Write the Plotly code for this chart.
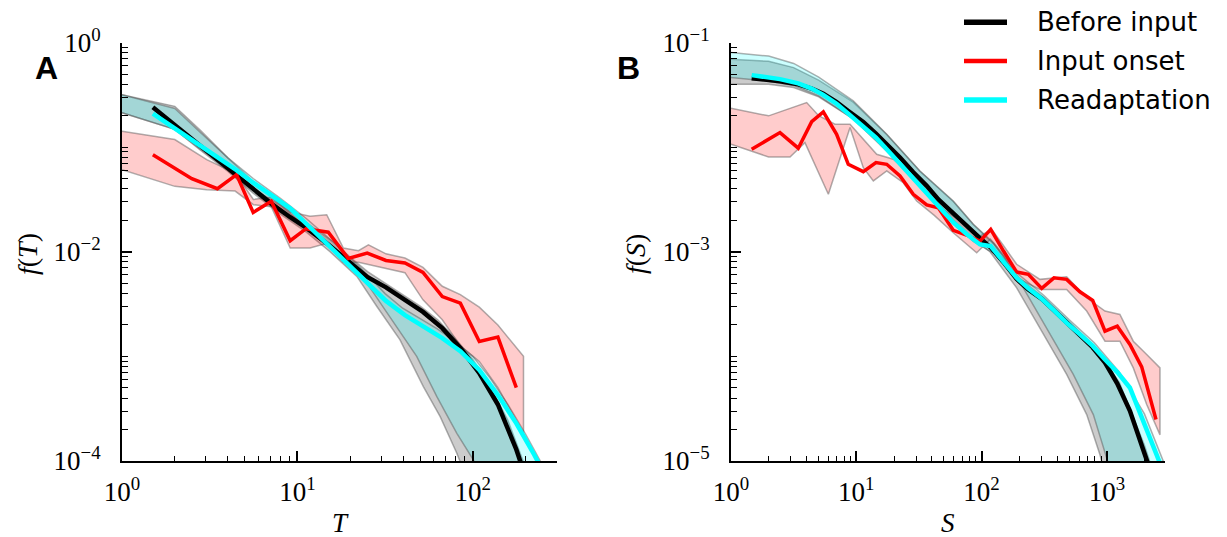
import numpy as np
import plotly.graph_objects as go

W, H = 1227, 537

# ---------------------------------------------------------------
# Panel A: distribution of avalanche durations T (log10 units)
# ---------------------------------------------------------------
T_log10 = [0.176, 0.398, 0.544, 0.653, 0.748, 0.851, 0.959, 1.049, 1.176, 1.290,
           1.398, 1.505, 1.613, 1.716, 1.826, 1.929, 2.037, 2.143, 2.248, 2.350, 2.450]
fT_before = [-0.62, -0.92, -1.12, -1.27, -1.40, -1.54, -1.67, -1.77, -1.93, -2.09,
             -2.24, -2.34, -2.46, -2.575, -2.73, -2.92, -3.16, -3.46, -3.89, -4.40]
fT_onset = [-1.072, -1.301, -1.397, -1.263, -1.624, -1.518, -1.895, -1.78, -1.813, -2.064,
            -2.013, -2.083, -2.108, -2.198, -2.428, -2.491, -2.858, -2.816, -3.299]
fT_readapt = [-0.68, -0.93, -1.09, -1.22, -1.34, -1.46, -1.585, -1.73, -1.935, -2.11,
              -2.29, -2.47, -2.605, -2.71, -2.825, -2.95, -3.13, -3.37, -3.64, -3.94, -4.25]

# spread around each curve (upper / lower edges, log10 units)
bandA_before_hi_x = [0.0, 0.301, 0.447, 0.602, 0.748, 0.903, 1.049, 1.2, 1.3, 1.4,
                     1.5, 1.6, 1.7, 1.8, 1.9, 2.0, 2.1, 2.2, 2.3, 2.4]
bandA_before_hi = [-0.50, -0.61, -0.84, -1.10, -1.33, -1.54, -1.72, -1.90, -2.05, -2.19,
                   -2.30, -2.41, -2.52, -2.65, -2.83, -3.03, -3.29, -3.61, -4.06, -4.6]
bandA_before_lo_x = [0.0, 0.301, 0.447, 0.602, 0.748, 0.903, 1.049, 1.186, 1.339, 1.453,
                     1.585, 1.718, 1.814, 1.909, 1.95]
bandA_before_lo = [-0.67, -0.83, -1.03, -1.23, -1.44, -1.64, -1.81, -2.0, -2.236, -2.523,
                   -2.842, -3.289, -3.576, -3.926, -4.1]
bandA_readapt_hi_x = [0.0, 0.301, 0.447, 0.602, 0.748, 0.903, 1.049, 1.2, 1.3, 1.4,
                      1.5, 1.6, 1.7, 1.8, 1.9, 2.0, 2.1, 2.2, 2.3, 2.4, 2.45]
bandA_readapt_hi = [-0.50, -0.63, -0.86, -1.10, -1.30, -1.49, -1.68, -1.90, -2.06, -2.22,
                    -2.40, -2.54, -2.64, -2.74, -2.86, -3.00, -3.21, -3.46, -3.74, -4.05, -4.2]
bandA_readapt_lo_x = [0.0, 0.301, 0.447, 0.602, 0.748, 0.903, 1.049, 1.2, 1.396, 1.528,
                      1.68, 1.795, 1.909, 2.003, 2.05]
bandA_readapt_lo = [-0.67, -0.83, -1.02, -1.20, -1.40, -1.56, -1.76, -1.99, -2.30, -2.619,
                    -3.0, -3.385, -3.735, -3.99, -4.15]
bandA_onset_x = [0.0, 0.301, 0.483, 0.645, 0.749, 0.851, 0.959, 1.072, 1.167, 1.262,
                 1.348, 1.405, 1.505, 1.613, 1.716, 1.826, 1.929, 2.037, 2.143, 2.289]
bandA_onset_hi = [-0.849, -0.928, -1.12, -1.247, -1.50, -1.48, -1.62, -1.66, -1.646, -1.965,
                  -1.99, -1.933, -2.02, -2.06, -2.15, -2.33, -2.41, -2.53, -2.70, -3.0]
bandA_onset_lo = [-1.215, -1.375, -1.407, -1.42, -1.55, -1.57, -1.965, -1.965, -1.92, -2.10,
                  -2.10, -2.12, -2.16, -2.20, -2.46, -2.65, -2.90, -3.05, -3.30, -3.735]

# ---------------------------------------------------------------
# Panel B: distribution of avalanche sizes S (log10 units)
# ---------------------------------------------------------------
S_log10 = [0.165, 0.391, 0.537, 0.644, 0.737, 0.843, 0.936, 1.056, 1.157, 1.243,
           1.349, 1.455, 1.562, 1.655, 1.774, 1.880, 1.987, 2.073, 2.175, 2.280,
           2.373, 2.480, 2.578, 2.679, 2.785, 2.887, 2.985, 3.083, 3.184, 3.278,
           3.392, 3.450]
fS_before = [-1.341, -1.37, -1.40, -1.44, -1.49, -1.57, -1.655, -1.76, -1.87, -1.972,
             -2.10, -2.24, -2.37, -2.50, -2.627, -2.75, -2.87, -2.96, -3.10, -3.26,
             -3.36, -3.45, -3.56, -3.68, -3.80, -3.915, -4.06, -4.26, -4.52, -4.83, -5.25]
fS_onset = [-2.02, -1.861, -2.01, -1.756, -1.663, -1.877, -2.164, -2.234, -2.148, -2.164,
            -2.276, -2.451, -2.553, -2.579, -2.795, -2.84, -2.898, -2.786, -2.993, -3.194,
            -3.216, -3.35, -3.249, -3.264, -3.383, -3.465, -3.759, -3.711, -3.886, -4.10, -4.604]
fS_readapt = [-1.312, -1.35, -1.39, -1.44, -1.50, -1.585, -1.68, -1.80, -1.91, -2.02,
              -2.16, -2.31, -2.45, -2.57, -2.72, -2.83, -2.93, -2.946, -3.10, -3.249,
              -3.35, -3.45, -3.56, -3.68, -3.79, -3.90, -4.03, -4.15, -4.30, -4.58, -4.92, -5.1]

bandB_hi_x = [0.0, 0.3, 0.5, 0.7, 0.976, 1.243, 1.508, 1.774, 1.934, 2.1,
              2.3, 2.5, 2.7, 2.9, 3.1, 3.3, 3.45]
bandB_before_hi = [-1.159, -1.18, -1.24, -1.36, -1.57, -1.88, -2.23, -2.52, -2.74, -2.93,
                   -3.25, -3.44, -3.67, -3.90, -4.25, -4.85, -5.4]
bandB_readapt_hi = [-1.096, -1.13, -1.20, -1.33, -1.558, -1.877, -2.228, -2.515, -2.738, -2.92,
                    -3.22, -3.42, -3.65, -3.87, -4.15, -4.55, -5.0]
bandB_before_lo_x = [0.0, 0.3, 0.5, 0.7, 0.976, 1.243, 1.508, 1.774, 1.934, 2.067,
                     2.28, 2.466, 2.679, 2.839, 2.945, 3.0]
bandB_before_lo = [-1.398, -1.40, -1.43, -1.52, -1.73, -2.03, -2.35, -2.70, -2.88, -3.0,
                   -3.345, -3.727, -4.173, -4.556, -4.94, -5.2]
bandB_readapt_lo_x = [0.0, 0.3, 0.5, 0.7, 0.976, 1.243, 1.508, 1.774, 1.934, 2.147,
                      2.333, 2.52, 2.732, 2.892, 2.998, 3.05]
bandB_readapt_lo = [-1.335, -1.37, -1.41, -1.51, -1.73, -2.04, -2.36, -2.72, -2.90, -3.05,
                    -3.345, -3.727, -4.173, -4.556, -4.97, -5.2]
bandB_onset_hi_x = [0.0, 0.30, 0.604, 0.70, 0.83, 0.95, 1.163, 1.296, 1.40, 1.562,
                    1.70, 1.85, 1.987, 2.08, 2.18, 2.28, 2.466, 2.679, 2.839, 2.985,
                    3.104, 3.211, 3.318, 3.424]
bandB_onset_hi = [-1.628, -1.701, -1.574, -1.70, -1.781, -1.781, -2.068, -2.116, -2.228, -2.42,
                  -2.60, -2.72, -2.85, -2.786, -2.95, -3.12, -3.264, -3.24, -3.44, -3.567,
                  -3.599, -3.855, -3.982, -4.11]
bandB_onset_lo_x = [0.0, 0.30, 0.471, 0.59, 0.777, 0.95, 1.056, 1.136, 1.243, 1.375,
                    1.482, 1.62, 1.774, 1.961, 2.07, 2.18, 2.28, 2.466, 2.679, 2.839,
                    2.985, 3.104, 3.211, 3.318, 3.424]
bandB_onset_lo = [-1.972, -2.094, -2.094, -1.957, -2.451, -1.813, -2.196, -2.323, -2.228, -2.34,
                  -2.515, -2.65, -2.818, -3.01, -2.88, -3.05, -3.25, -3.36, -3.36, -3.567,
                  -3.855, -3.855, -4.11, -4.46, -4.75]

series_names = ["Before input", "Input onset", "Readaptation"]
series_colors = ["#000000", "#ff0000", "#00ffff"]
series_widths = [4.5, 3.5, 4.5]

EDGE = "rgba(80,80,80,0.45)"
FILL_BEFORE = "rgba(0,0,0,0.2)"
FILL_ONSET = "rgba(255,0,0,0.2)"
FILL_READAPT = "rgba(0,255,255,0.2)"

fig = go.Figure()


def band(xh, yh, xl, yl, fill, xa, ya):
    xs = np.concatenate([np.asarray(xh, float), np.asarray(xl, float)[::-1]])
    ys = np.concatenate([np.asarray(yh, float), np.asarray(yl, float)[::-1]])
    return go.Scatter(x=10 ** xs, y=10 ** ys, mode="lines", fill="toself",
                      fillcolor=fill, line=dict(color=EDGE, width=1.5),
                      hoverinfo="skip", showlegend=False, xaxis=xa, yaxis=ya)


def curve(xlog, ylog, k, xa, ya):
    n = len(ylog)
    return go.Scatter(x=10 ** np.asarray(xlog[:n], float), y=10 ** np.asarray(ylog, float),
                      mode="lines", name=series_names[k],
                      line=dict(color=series_colors[k], width=series_widths[k]),
                      showlegend=False, xaxis=xa, yaxis=ya)


# panel A
fig.add_trace(band(bandA_before_hi_x, bandA_before_hi, bandA_before_lo_x, bandA_before_lo,
                   FILL_BEFORE, "x", "y"))
fig.add_trace(band(bandA_readapt_hi_x, bandA_readapt_hi, bandA_readapt_lo_x, bandA_readapt_lo,
                   FILL_READAPT, "x", "y"))
fig.add_trace(band(bandA_onset_x, bandA_onset_hi, bandA_onset_x, bandA_onset_lo,
                   FILL_ONSET, "x", "y"))
fig.add_trace(curve(T_log10, fT_before, 0, "x", "y"))
fig.add_trace(curve(T_log10, fT_onset, 1, "x", "y"))
fig.add_trace(curve(T_log10, fT_readapt, 2, "x", "y"))

# panel B
fig.add_trace(band(bandB_hi_x, bandB_before_hi, bandB_before_lo_x, bandB_before_lo,
                   FILL_BEFORE, "x2", "y2"))
fig.add_trace(band(bandB_hi_x, bandB_readapt_hi, bandB_readapt_lo_x, bandB_readapt_lo,
                   FILL_READAPT, "x2", "y2"))
fig.add_trace(band(bandB_onset_hi_x, bandB_onset_hi, bandB_onset_lo_x, bandB_onset_lo,
                   FILL_ONSET, "x2", "y2"))
fig.add_trace(curve(S_log10, fS_before, 0, "x2", "y2"))
fig.add_trace(curve(S_log10, fS_onset, 1, "x2", "y2"))
fig.add_trace(curve(S_log10, fS_readapt, 2, "x2", "y2"))


def decade_label(e):
    s = str(e).replace("-", "\u2212")
    return f"10<sup>{s}</sup>"


def log_axis(domain, rng, decades, labelled, anchor, standoff):
    # long labelled ticks on the chosen decades, short ticks on every other 1..9 x 10^k
    minor_vals = [m * 10.0 ** e for e in range(decades[0] - 1, decades[-1] + 1)
                  for m in range(1, 10) if not (m == 1 and e in labelled)]
    return dict(
        type="log", domain=domain, range=rng, anchor=anchor, automargin=False,
        showgrid=False, zeroline=False, showline=True, linecolor="black", linewidth=2,
        ticks="inside", ticklen=10, tickwidth=1.5, tickcolor="black",
        tickmode="array", tickvals=[10.0 ** e for e in labelled],
        ticktext=[decade_label(e) for e in labelled],
        tickfont=dict(family="Liberation Serif", size=27, color="black"),
        ticklabelstandoff=standoff,
        minor=dict(ticks="inside", ticklen=5.5, tickwidth=1.2, tickcolor="black",
                   tickmode="array", tickvals=minor_vals, showgrid=False),
    )


ydom = [1 - 461 / H, 1 - 42.5 / H]
fig.update_layout(
    width=W, height=H, autosize=False,
    margin=dict(l=0, r=0, t=0, b=0, pad=0, autoexpand=False),
    paper_bgcolor="white", plot_bgcolor="white", showlegend=False,
    xaxis=log_axis([122 / W, 557 / W], [0, 2.48], [0, 1, 2], [0, 1, 2], "y", 6),
    yaxis=log_axis(ydom, [-4, 0], [-4, -3, -2, -1, 0], [-4, -2, 0], "x", 14),
    xaxis2=log_axis([731 / W, 1165 / W], [0, 3.464], [0, 1, 2, 3], [0, 1, 2, 3], "y2", 6),
    yaxis2=log_axis(ydom, [-5, -1], [-5, -4, -3, -2, -1], [-5, -3, -1], "x2", 14),
)

serif = dict(family="Liberation Serif", size=27, color="black")
serif_y = dict(family="Liberation Serif", size=28, color="black")
ann = [
    dict(x=46 / W, y=1 - 68 / H, text="<b>A</b>", font=dict(family="Liberation Sans", size=32, color="black")),
    dict(x=628 / W, y=1 - 68 / H, text="<b>B</b>", font=dict(family="Liberation Sans", size=32, color="black")),
    dict(x=340.5 / W, y=1 - 523 / H, text="<i>T</i>", font=serif),
    dict(x=948 / W, y=1 - 523 / H, text="<i>S</i>", font=serif),
    dict(x=27 / W, y=1 - 254 / H, text="<i>f</i>(<i>T</i>)", font=serif_y, textangle=-90),
    dict(x=635 / W, y=1 - 254 / H, text="<i>f</i>(<i>S</i>)", font=serif_y, textangle=-90),
]
for a in ann:
    a.update(xref="paper", yref="paper", showarrow=False, xanchor="center", yanchor="middle")
    fig.add_annotation(**a)

# legend block in the top-right corner
legend_rows_y = [22.3, 61.0, 100.0]
shapes = []
for k, yy in enumerate(legend_rows_y):
    shapes.append(dict(type="line", xref="paper", yref="paper",
                       x0=964 / W, x1=1007 / W, y0=1 - yy / H, y1=1 - yy / H,
                       line=dict(color=series_colors[k], width=series_widths[k] + 1)))
    fig.add_annotation(x=1035 / W, y=1 - yy / H, xref="paper", yref="paper",
                       text=series_names[k], showarrow=False, xanchor="left", yanchor="middle",
                       font=dict(family="DejaVu Sans", size=26, color="black"))
fig.update_layout(shapes=shapes)

fig.write_html("out.html")
